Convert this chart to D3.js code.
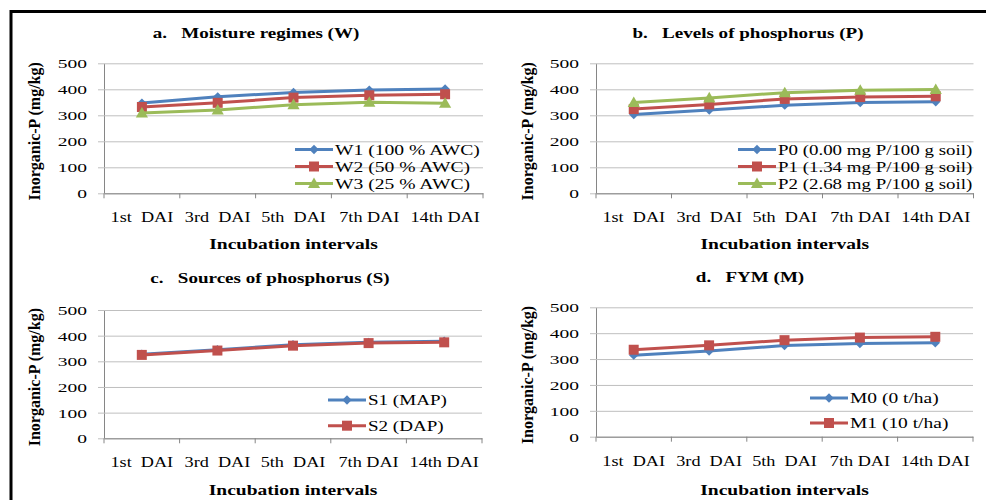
<!DOCTYPE html>
<html>
<head>
<meta charset="utf-8">
<script src="https://cdn.jsdelivr.net/npm/d3@7"></script>
<style>
body { margin: 0; background: #fff; }
text { font-family: "Liberation Serif", "Times New Roman", serif; white-space: pre; fill: #000; }
</style>
</head>
<body>
<script>
// incubation intervals and y ticks
var categories = ["1st  DAI", "3rd  DAI", "5th  DAI", "7th DAI", "14th DAI"];
var yTicks = [0, 100, 200, 300, 400, 500];

// a. moisture regimes
var wNames = ["W1 (100 % AWC)", "W2 (50 % AWC)", "W3 (25 % AWC)"];
var w1 = [347, 371, 388, 397, 401];
var w2 = [332, 348, 368, 377, 381];
var w3 = [309, 320, 341, 350, 346];

// b. levels of phosphorus
var pNames = ["P0 (0.00 mg P/100 g soil)", "P1 (1.34 mg P/100 g soil)", "P2 (2.68 mg P/100 g soil)"];
var p0 = [303, 320, 339, 349, 352];
var p1 = [324, 342, 363, 370, 373];
var p2 = [349, 367, 387, 396, 399];

// c. sources of phosphorus
var sNames = ["S1 (MAP)", "S2 (DAP)"];
var s1 = [328, 345, 365, 374, 378];
var s2 = [325, 342, 361, 371, 374];

// d. FYM
var mNames = ["M0 (0 t/ha)", "M1 (10 t/ha)"];
var m0 = [315, 331, 352, 360, 363];
var m1 = [336, 353, 373, 383, 386];

var colors = ["#4F81BD", "#C0504D", "#9BBB59"];
var shapes = ["diamond", "square", "triangle"];

var svg = d3.select('body').append('svg')
    .attr('width', 986).attr('height', 500);

svg.append('rect').attr('width', 986).attr('height', 500).attr('fill', '#fff');

// outer frame (only top and left visible)
svg.append('path')
    .attr('d', 'M11,500V11.5H986')
    .attr('fill', 'none').attr('stroke', '#000').attr('stroke-width', 3);

// widen text horizontally like the stretched original
function stretch(sel, k) {
    sel.each(function () {
        var w = this.getComputedTextLength();
        d3.select(this).attr('textLength', w * k).attr('lengthAdjust', 'spacingAndGlyphs');
    });
}

function drawMarker(parent, shape, color, x, y) {
    var p = parent.append('path').attr('fill', color);
    if (shape == 'diamond') {
        p.attr('d', d3.symbol(d3.symbolSquare, 44)())
         .attr('transform', 'translate(' + x + ',' + y + ') rotate(45)');
    } else if (shape == 'square') {
        p.attr('d', d3.symbol(d3.symbolSquare, 100)())
         .attr('transform', 'translate(' + x + ',' + y + ')');
    } else {
        p.attr('d', d3.symbol(d3.symbolTriangle, 64)())
         .attr('transform', 'translate(' + x + ',' + (y + 1) + ')');
    }
}

var panels = [
    { title: "a.   Moisture regimes (W)", names: wNames, series: [w1, w2, w3],
      left: 104, right: 483, top: 63.3, bottom: 193.3, legK: 1.40,
      titleX: 256, titleY: 38, ylabX: 35, xlabY: 249, legX: 295, legY: 149.5, legStep: 17 },
    { title: "b.   Levels of phosphorus (P)", names: pNames, series: [p0, p1, p2],
      left: 596, right: 973.5, top: 63.3, bottom: 193.3, legK: 1.35,
      titleX: 748, titleY: 38, ylabX: 528, xlabY: 249, legX: 738, legY: 149.5, legStep: 17 },
    { title: "c.   Sources of phosphorus (S)", names: sNames, series: [s1, s2],
      left: 104, right: 482, top: 310, bottom: 438.3, legK: 1.36,
      titleX: 270, titleY: 283, ylabX: 35, xlabY: 495, legX: 328, legY: 400, legStep: 25.7 },
    { title: "d.   FYM (M)", names: mNames, series: [m0, m1],
      left: 596, right: 973, top: 307.3, bottom: 436.7, legK: 1.39,
      titleX: 750, titleY: 282, ylabX: 528, xlabY: 495, legX: 810, legY: 398, legStep: 25 }
];

panels.forEach(function (pn) {
    var g = svg.append('g');

    var x = d3.scaleBand().domain(categories).range([pn.left, pn.right]).padding(0);
    var y = d3.scaleLinear().domain([0, 500]).range([pn.bottom, pn.top]);

    // y axis with gridlines
    var yAxis = d3.axisLeft(y).tickValues(yTicks)
        .tickSizeInner(-(pn.right - pn.left)).tickSizeOuter(0).tickPadding(17);
    var ya = g.append('g').attr('transform', 'translate(' + pn.left + ',0)').call(yAxis);
    ya.select('.domain').attr('stroke', '#868686');
    ya.selectAll('.tick line').attr('x1', -6).attr('stroke', '#bfbfbf');
    ya.selectAll('.tick text')
        .attr('font-size', 13).attr('fill', '#000').attr('dy', '0.35em');
    stretch(ya.selectAll('.tick text'), 1.5);

    // x axis
    var xAxis = d3.axisBottom(x).tickSize(0).tickPadding(19).tickSizeOuter(0);
    var xa = g.append('g').attr('transform', 'translate(0,' + pn.bottom + ')').call(xAxis);
    xa.select('.domain').attr('stroke', '#868686');
    xa.selectAll('.tick text')
        .attr('font-size', 14).attr('fill', '#000');
    stretch(xa.selectAll('.tick text'), 1.3);
    // boundary ticks between categories
    var bounds = categories.map(function (c) { return x(c); }).concat([x.range()[1]]);
    xa.selectAll('.bound').data(bounds).enter().append('line')
        .attr('x1', function (d) { return d; }).attr('x2', function (d) { return d; })
        .attr('y1', 0).attr('y2', 5).attr('stroke', '#868686');

    // series lines and markers
    var line = d3.line()
        .x(function (d, i) { return x(categories[i]) + x.bandwidth() / 2; })
        .y(function (d) { return y(d); });

    pn.series.forEach(function (vals, si) {
        g.append('path').datum(vals)
            .attr('d', line)
            .attr('fill', 'none')
            .attr('stroke', colors[si])
            .attr('stroke-width', 3);
        vals.forEach(function (v, i) {
            drawMarker(g, shapes[si], colors[si], x(categories[i]) + x.bandwidth() / 2, y(v));
        });
    });

    // legend
    pn.names.forEach(function (nm, si) {
        var ly = pn.legY + si * pn.legStep;
        g.append('line')
            .attr('x1', pn.legX).attr('x2', pn.legX + 38)
            .attr('y1', ly).attr('y2', ly)
            .attr('stroke', colors[si]).attr('stroke-width', 3);
        drawMarker(g, shapes[si], colors[si], pn.legX + 19, ly);
        var t = g.append('text')
            .attr('x', pn.legX + 40).attr('y', ly + 5)
            .attr('font-size', 14)
            .text(nm);
        stretch(t, pn.legK);
    });

    // titles
    var tt = g.append('text')
        .attr('x', pn.titleX).attr('y', pn.titleY)
        .attr('text-anchor', 'middle')
        .attr('font-size', 14).attr('font-weight', 'bold')
        .text(pn.title);
    stretch(tt, 1.36);

    var xt = g.append('text')
        .attr('x', (pn.left + pn.right) / 2).attr('y', pn.xlabY)
        .attr('text-anchor', 'middle')
        .attr('font-size', 15).attr('font-weight', 'bold')
        .text("Incubation intervals");
    stretch(xt, 1.3);

    g.append('text')
        .attr('transform', 'translate(' + (pn.ylabX + 5) + ',' + ((pn.top + pn.bottom) / 2 + 3) + ') rotate(-90)')
        .attr('text-anchor', 'middle')
        .attr('font-size', 16).attr('font-weight', 'bold')
        .text("Inorganic-P (mg/kg)");
});
</script>
</body>
</html>
